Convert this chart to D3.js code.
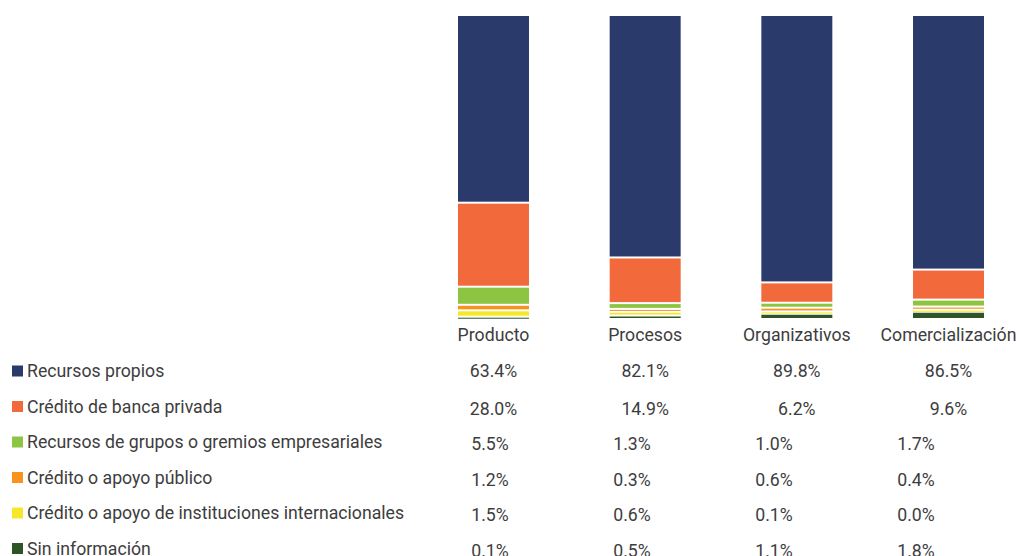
<!DOCTYPE html>
<html>
<head>
<meta charset="utf-8">
<script src="https://cdn.jsdelivr.net/npm/d3@7"></script>
<style>
  body { margin: 0; background: #fff; }
  text { font-family: Roboto, "Noto Sans", sans-serif; font-size: 17.7px; fill: #3d3d3d; }
</style>
</head>
<body>
<svg id="chart"></svg>
<script>
var categories = ['Producto', 'Procesos', 'Organizativos', 'Comercialización'];
var series = ['Recursos propios', 'Crédito de banca privada', 'Recursos de grupos o gremios empresariales',
              'Crédito o apoyo público', 'Crédito o apoyo de instituciones internacionales', 'Sin información'];
var recursosPropios   = [63.4, 82.1, 89.8, 86.5];
var bancaPrivada      = [28.0, 14.9, 6.2, 9.6];
var gruposGremios     = [5.5, 1.3, 1.0, 1.7];
var apoyoPublico      = [1.2, 0.3, 0.6, 0.4];
var internacionales   = [1.5, 0.6, 0.1, 0.0];
var sinInformacion    = [0.1, 0.5, 1.1, 1.8];
var colors = ['#2a3b6b', '#f26a3c', '#8cc542', '#f7931e', '#f5e829', '#2f5526'];

var values = [recursosPropios, bancaPrivada, gruposGremios, apoyoPublico, internacionales, sinInformacion];
var table = categories.map(function(c, i) {
    var row = {cat: c};
    series.forEach(function(s, j) { row[s] = values[j][i]; });
    return row;
});

var W = 1019, H = 556;
var svg = d3.select('#chart').attr('width', W).attr('height', H);

var gap = 2, barTop = 16, barBottom = 318;
var nGaps = series.length - 1;
var x = d3.scaleBand().domain(categories).range([458, 984]).paddingInner(0.532).paddingOuter(0);
// share of the bar -> pixel height (white gaps between segments taken out)
var h = d3.scaleLinear().domain([0, 1]).range([0, barBottom - barTop - nGaps * gap]);
var color = d3.scaleOrdinal().domain(series).range(colors);
var rowY = d3.scalePoint().domain(series).range([371, 548.5]);
var lowX = d3.scalePoint().domain(categories).range([490, 916]);

// stack from the bottom: last series at the bottom
var stack = d3.stack().keys(series.slice().reverse()).offset(d3.stackOffsetExpand);
var layers = stack(table);

var g = svg.append('g');
g.selectAll('g.layer').data(layers).enter().append('g')
    .attr('class', 'layer')
    .attr('fill', function(d) { return color(d.key); })
  .each(function(layer, k) {
      var above = nGaps - k;
      d3.select(this).selectAll('rect').data(layer).enter().append('rect')
        .attr('x', function(d) { return x(d.data.cat); })
        .attr('width', x.bandwidth())
        .attr('y', function(d) { return barTop + h(1 - d[1]) + above * gap; })
        .attr('height', function(d) { return Math.max(1, h(d[1] - d[0])); });
  });

// category labels
svg.selectAll('text.cat').data(categories).enter().append('text')
    .attr('class', 'cat')
    .attr('x', function(d) { return x(d) + x.bandwidth() / 2; })
    .attr('y', 335)
    .attr('text-anchor', 'middle')
    .attr('dominant-baseline', 'central')
    .text(function(d) { return d; });

// legend rows
var rows = svg.selectAll('g.row').data(series).enter().append('g')
    .attr('class', 'row')
    .attr('transform', function(d) { return 'translate(0,' + rowY(d) + ')'; });
rows.append('rect').attr('x', 12).attr('y', -5.5).attr('width', 11).attr('height', 11)
    .attr('fill', function(d) { return color(d); });
rows.append('text').attr('x', 27).attr('dominant-baseline', 'central').text(function(d) { return d; });

// values
rows.each(function(s, j) {
    d3.select(this).selectAll('text.val').data(table).enter().append('text')
        .attr('class', 'val')
        .attr('x', function(d) { return j < 2 ? x(d.cat) + x.bandwidth() / 2 : lowX(d.cat); })
        .attr('y', j === 0 ? 0 : 2)
        .attr('text-anchor', 'middle')
        .attr('dominant-baseline', 'central')
        .text(function(d) { return d[s].toFixed(1) + '%'; });
});
</script>
</body>
</html>
